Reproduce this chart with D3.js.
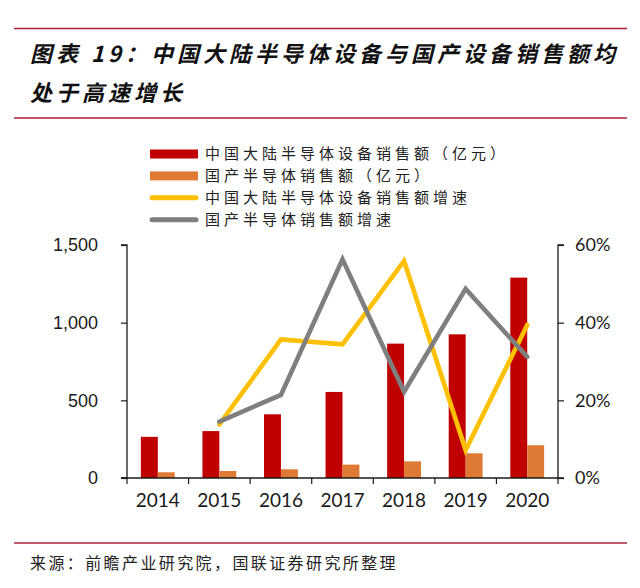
<!DOCTYPE html>
<html><head><meta charset="utf-8">
<script src="https://cdn.jsdelivr.net/npm/d3@7/dist/d3.min.js"></script>
<style>body{margin:0;background:#fff}</style>
</head><body><svg id="c" width="640" height="588"></svg>
<script>
const years = ["2014","2015","2016","2017","2018","2019","2020"];
const mainlandSales = [265, 302, 410, 554, 865, 925, 1290];
const domesticSales = [37, 45, 56, 86, 107, 159, 211];
const mainlandGrowth = [null, 0.138, 0.357, 0.344, 0.559, 0.072, 0.394];
const domesticGrowth = [null, 0.145, 0.214, 0.563, 0.222, 0.487, 0.312];
const leftTicks = [0, 500, 1000, 1500];
const rightTicks = [0, 0.2, 0.4, 0.6];
const seriesNames = ["中国大陆半导体设备销售额（亿元）","国产半导体销售额（亿元）","中国大陆半导体设备销售额增速","国产半导体销售额增速"];
const titleLines = ["图表 19：中国大陆半导体设备与国产设备销售额均","处于高速增长"];
const sourceText = "来源：前瞻产业研究院，国联证券研究所整理";

const C = {red:"#c00000", orange:"#df7a35", yellow:"#ffc000", gray:"#7f7f7f", rule:"#a8203a", ink:"#1a1a1a"};
const svg = d3.select("#c");
svg.append("rect").attr("width",640).attr("height",588).attr("fill","#fff");

[28.5, 118, 543].forEach(y=>svg.append("line").attr("x1",14).attr("x2",627).attr("y1",y).attr("y2",y).attr("stroke",C.rule).attr("stroke-width",1.6));

titleLines.forEach((t,i)=>svg.append("text").attr("x",30).attr("y",[62,101][i])
  .attr("font-family","'Noto Sans CJK SC'").attr("font-size",22).attr("font-weight",700)
  .attr("font-style","italic").attr("letter-spacing",4).attr("fill","#111").text(t));

svg.append("text").attr("x",30).attr("y",569).attr("font-family","'Noto Sans CJK SC'")
  .attr("font-size",16).attr("letter-spacing",2.4).attr("fill","#222").text(sourceText);

const L=127, R=558, T=245, B=478;
const x = d3.scaleBand().domain(years).range([L,R]).padding(0);
const yL = d3.scaleLinear().domain([0,1500]).range([B,T]);
const yR = d3.scaleLinear().domain([0,0.6]).range([B,T]);
const bw = x.bandwidth()*0.275;

svg.append("g").selectAll("rect").data(years).join("rect")
  .attr("x",(d)=>x(d)+x.bandwidth()/2-bw).attr("width",bw)
  .attr("y",(d,i)=>yL(mainlandSales[i])).attr("height",(d,i)=>B-yL(mainlandSales[i])).attr("fill",C.red);
svg.append("g").selectAll("rect").data(years).join("rect")
  .attr("x",(d)=>x(d)+x.bandwidth()/2).attr("width",bw)
  .attr("y",(d,i)=>yL(domesticSales[i])).attr("height",(d,i)=>B-yL(domesticSales[i])).attr("fill",C.orange);

function drawLine(vals,color){
  const line = d3.line().defined(d=>d.v!=null).x(d=>x(d.k)+x.bandwidth()/2).y(d=>yR(d.v));
  svg.append("path").datum(years.map((k,i)=>({k,v:vals[i]}))).attr("d",line)
    .attr("fill","none").attr("stroke",color).attr("stroke-width",4.6)
    .attr("stroke-linejoin","miter").attr("stroke-linecap","round");
}
drawLine(mainlandGrowth,C.yellow);
drawLine(domesticGrowth,C.gray);

const axL = svg.append("g").attr("transform",`translate(${L},0)`)
  .call(d3.axisLeft(yL).tickValues(leftTicks).tickSize(6).tickPadding(23).tickFormat(d3.format(",")));
axL.selectAll("text").attr("font-family","'Liberation Sans',Arial").attr("font-size",18).attr("fill",C.ink);
const axR = svg.append("g").attr("transform",`translate(${R},0)`)
  .call(d3.axisRight(yR).tickValues(rightTicks).tickSize(6).tickPadding(11).tickFormat(d3.format(".0%")));
axR.selectAll("text").attr("font-family","Lato").attr("font-size",18).attr("fill",C.ink);
const axB = svg.append("g").attr("transform",`translate(0,${B})`)
  .call(d3.axisBottom(x).tickSize(0).tickPadding(16));
axB.selectAll("text").attr("font-family","Lato").attr("font-size",19).attr("fill",C.ink);
const bounds = years.map(d=>x(d)).concat([R]);
axB.selectAll("line.bt").data(bounds).join("line").attr("class","bt")
  .attr("x1",d=>d).attr("x2",d=>d).attr("y1",0).attr("y2",6).attr("stroke",C.ink).attr("stroke-width",1.2);
[axL,axR,axB].forEach(a=>{a.select(".domain").attr("stroke",C.ink).attr("stroke-width",1.3);
  a.selectAll(".tick line").attr("stroke",C.ink).attr("stroke-width",1.2);});
axL.select(".domain").attr("d",`M-6,${T}H0V${B}H-6`);
axR.select(".domain").attr("d",`M6,${T}H0V${B}H6`);
axB.select(".domain").attr("d",`M${L-6},0H${R}`);

const lg = svg.append("g");
const rowsY = [154,175.9,197.8,219.7];
seriesNames.forEach((n,i)=>{
  const y=rowsY[i];
  if(i<2){
    lg.append("rect").attr("x",150).attr("y",y-4.5).attr("width",48).attr("height",9).attr("fill",[C.red,C.orange][i]);
  } else {
    lg.append("line").attr("x1",152).attr("x2",196).attr("y1",y).attr("y2",y)
      .attr("stroke",[C.yellow,C.gray][i-2]).attr("stroke-width",5).attr("stroke-linecap","round");
  }
  lg.append("text").attr("x",205).attr("y",y).attr("dy","0.36em").attr("font-family","'Noto Sans CJK SC'")
    .attr("font-size",15).attr("letter-spacing",4).attr("fill","#222").text(n);
});
</script></body></html>
